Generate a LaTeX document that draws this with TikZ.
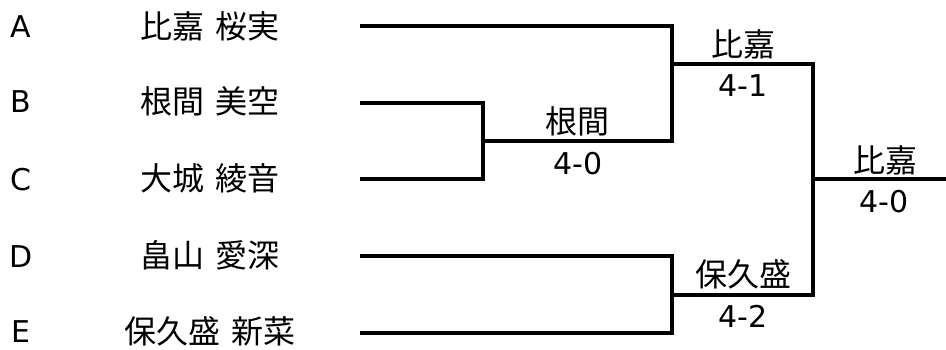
\documentclass[tikz,border=0pt]{standalone}
\usepackage{fontspec}
\setmainfont{DejaVu Sans}
\newfontfamily\jp{Noto Sans CJK JP}
\usepackage{tikz}

\begin{document}
\begin{tikzpicture}[x=1pt, y=-1pt,
    every node/.style={inner sep=0pt, font=\fontsize{30}{34}\selectfont},
    jname/.style={font=\jp\fontsize{32}{36}\selectfont},
    bracket/.style={line width=3.5pt}]
\useasboundingbox (0,0) rectangle (946,349);

\node (lA) at (21, 27) {A};
\node (lB) at (21, 102) {B};
\node (lC) at (21, 180) {C};
\node (lD) at (21, 257) {D};
\node (lE) at (21, 332) {E};

\node[jname] (nA) at (210, 26) {比嘉\,\,桜実};
\node[jname] (nB) at (210, 101) {根間\,\,美空};
\node[jname] (nC) at (210, 178) {大城\,\,綾音};
\node[jname] (nD) at (210, 255) {畠山\,\,愛深};
\node[jname] (nE) at (210, 331) {保久盛\,\,新菜};

\coordinate (a) at (360, 26);
\coordinate (b) at (360, 103);
\coordinate (c) at (360, 179);
\coordinate (d) at (360, 256);
\coordinate (e) at (360, 333);
\coordinate (bc) at (483, 141);
\coordinate (abc) at (672, 64);
\coordinate (de) at (672, 295);
\coordinate (fin) at (813, 179);
\coordinate (out) at (946, 179);

\draw[bracket] (b) -| (bc) |- (c);
\draw[bracket] (a) -| (abc) |- (bc);
\draw[bracket] (d) -| (de) |- (e);
\draw[bracket] (abc) -| (fin) |- (de);
\draw[bracket] (fin) -- (out);

\node[jname] (wBC) at (577, 121) {根間};
\node (sBC) at (578, 164) {4-0};
\node[jname] (wABC) at (743, 44) {比嘉};
\node (sABC) at (743, 86) {4-1};
\node[jname] (wDE) at (743, 274) {保久盛};
\node (sDE) at (743, 316) {4-2};
\node[jname] (wFin) at (885, 160) {比嘉};
\node (sFin) at (884, 202) {4-0};
\end{tikzpicture}
\end{document}
